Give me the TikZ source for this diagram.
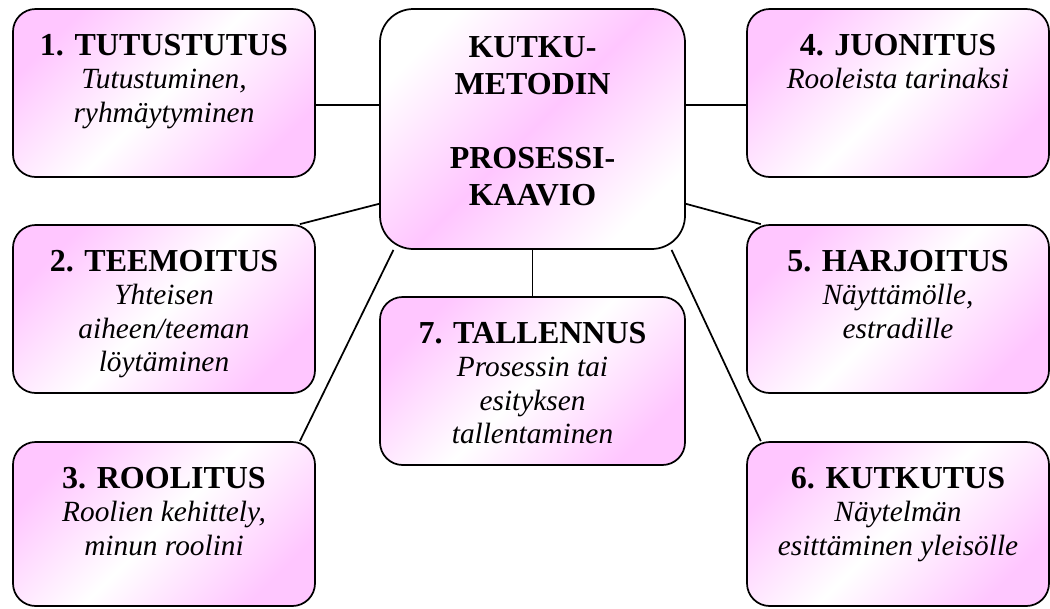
\documentclass[tikz,border=0pt]{standalone}
\usepackage{fontspec}
\setmainfont{Liberation Serif}
\usetikzlibrary{backgrounds}

\definecolor{kutkupink}{RGB}{255,198,255}
\newcommand{\stagetitle}[1]{{\fontsize{24}{26}\bfseries\upshape #1}}

\tikzset{
  stagebox/.style={draw, line width=1.3pt, rounded corners=17pt, inner sep=0pt,
    minimum width=226.5pt, minimum height=126pt,
    top color=kutkupink, bottom color=kutkupink, middle color=white, shading angle=45},
  hubbox/.style={draw, line width=1.3pt, rounded corners=25pt, inner sep=0pt,
    minimum width=228.75pt, minimum height=180pt,
    top color=white, bottom color=white, middle color=kutkupink, shading angle=45},
  stagetext/.style={anchor=north, align=center, inner sep=0pt,
    font=\fontsize{22}{25}\selectfont\itshape},
  hubtext/.style={anchor=north, align=center, inner sep=0pt,
    font=\fontsize{24}{27.75}\selectfont\bfseries},
  link/.style={line width=1.3pt}
}

\begin{document}
\begin{tikzpicture}[x=0.75pt,y=-0.75pt]
\useasboundingbox (0,0) rectangle (1050,608);

%Shape: Rounded Rect [center]
\node[hubbox] (kutku) at (532.5,129) {};
% Text Node
\node[hubtext] (kutkutext) at ([yshift=-21pt]kutku.north) {KUTKU-\\METODIN\\[27.75pt]PROSESSI-\\KAAVIO};

%Shape: Rounded Rect [left column]
\node[stagebox] (tutus) at (164,93) {};
\node[stagebox] (teema) at (164,309) {};
\node[stagebox, minimum height=123pt] (rooli) at (164,524) {};
% Text Node
\node[stagetext] (tutustext) at ([yshift=-19.5pt]tutus.north) {\stagetitle{1. TUTUSTUTUS}\\Tutustuminen,\\ryhmäytyminen};
% Text Node
\node[stagetext] (teematext) at ([yshift=-19.5pt]teema.north) {\stagetitle{2. TEEMOITUS}\\Yhteisen\\aiheen/teeman\\löytäminen};
% Text Node
\node[stagetext] (roolitext) at ([yshift=-19.5pt]rooli.north) {\stagetitle{3. ROOLITUS}\\Roolien kehittely,\\minun roolini};

%Shape: Rounded Rect [right column]
\node[stagebox] (juoni) at (898,93) {};
\node[stagebox] (harjoitus) at (898,309) {};
\node[stagebox, minimum height=123pt] (kutkutus) at (898,524) {};
% Text Node
\node[stagetext] (juonitext) at ([yshift=-19.5pt]juoni.north) {\stagetitle{4. JUONITUS}\\Rooleista tarinaksi};
% Text Node
\node[stagetext] (harjoitustext) at ([yshift=-19.5pt]harjoitus.north) {\stagetitle{5. HARJOITUS}\\Näyttämölle,\\estradille};
% Text Node
\node[stagetext] (kutkutustext) at ([yshift=-19.5pt]kutkutus.north) {\stagetitle{6. KUTKUTUS}\\Näytelmän\\esittäminen yleisölle};

%Shape: Rounded Rect [below center]
\node[stagebox, minimum width=228.75pt] (tallennus) at (532.5,381) {};
% Text Node
\node[stagetext] (tallennustext) at ([yshift=-19.5pt]tallennus.north) {\stagetitle{7. TALLENNUS}\\Prosessin tai\\esityksen\\tallentaminen};

%Straight Lines
\begin{scope}[on background layer]
\draw[link] ([yshift=-9pt]tutus.east) -- ([yshift=-9pt]tutus.east -| kutku.west);
\draw[link] ([yshift=-9pt]juoni.west) -- ([yshift=-9pt]juoni.west -| kutku.east);
\draw[link] ([xshift=-12pt]teema.north east) -- (kutku.206);
\draw[link] ([xshift=11pt]harjoitus.north west) -- (kutku.334);
\draw[link] ([xshift=-12pt]rooli.north east) -- (kutku.221);
\draw[link] ([xshift=11pt]kutkutus.north west) -- (kutku.319);
\draw[link] (kutku.south) -- (tallennus.north);
\end{scope}

\end{tikzpicture}
\end{document}
